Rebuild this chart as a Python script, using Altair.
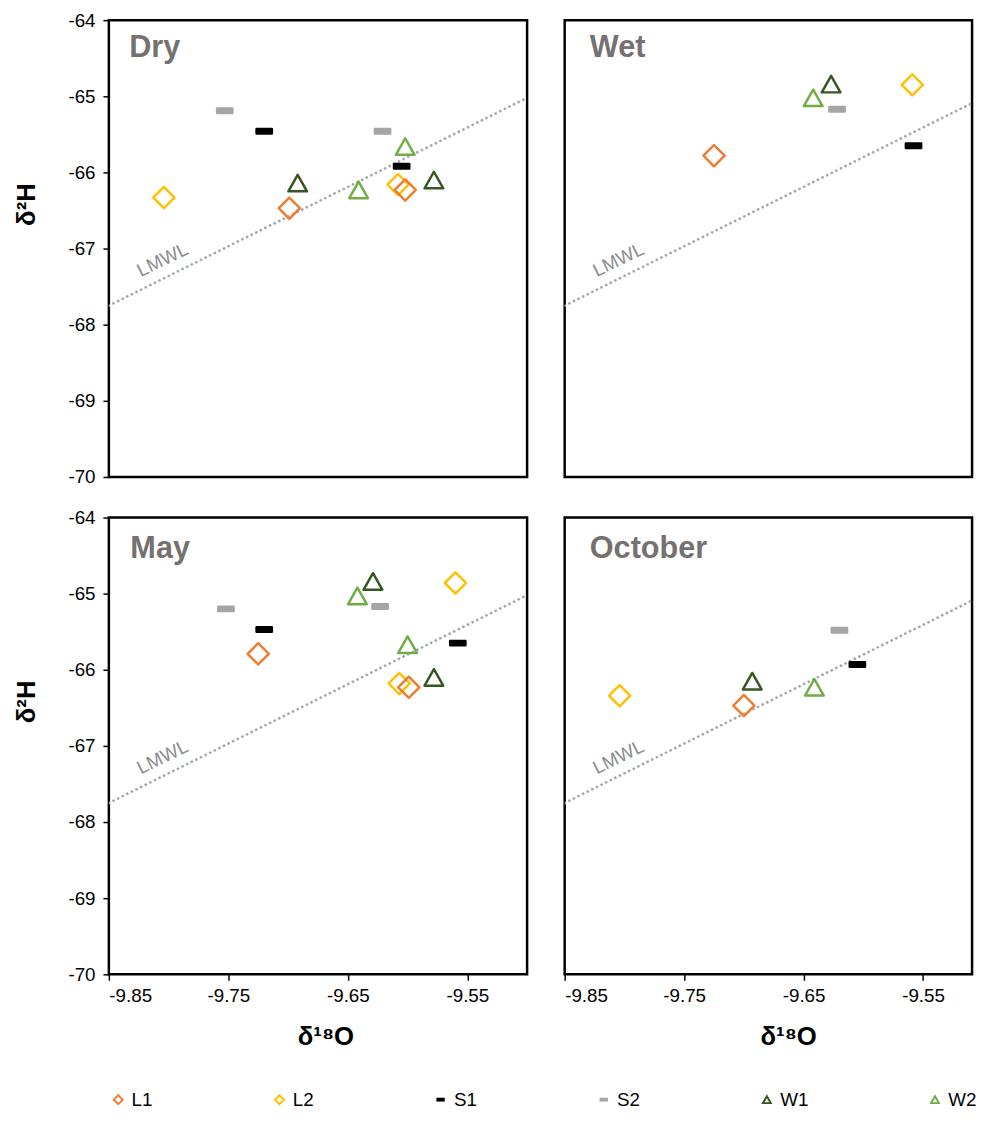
import altair as alt
import pandas as pd

# ---------------- data ----------------
SERIES = ["L1", "L2", "S1", "S2", "W1", "W2"]
STROKE_COLORS = ["#ED7D31", "#FFC000", "#000000", "#A5A5A5", "#375623", "#70AD47"]
FILL_COLORS = ["transparent", "transparent", "#000000", "#A5A5A5", "transparent", "transparent"]
DIAMOND = "M0,-1L1,0L0,1L-1,0Z"
BAR = "M-0.72,-0.21L0.72,-0.21L0.72,0.21L-0.72,0.21Z"
TRIANGLE = "M0,-0.78L0.88,0.78L-0.88,0.78Z"
SHAPES = [DIAMOND, DIAMOND, BAR, BAR, TRIANGLE, TRIANGLE]

Y_TICKS = [-64, -65, -66, -67, -68, -69, -70]
X_TICKS = [-9.85, -9.75, -9.65, -9.55]
Y_DOMAIN = [-70, -64]
X_DOMAIN_LEFT = [-9.85, -9.5]
X_DOMAIN_RIGHT = [-9.85, -9.509]

LMWL_X = [-9.85, -9.5]
LMWL_Y = [-67.75, -65.02]
LMWL_LABEL_X = [-9.805]
LMWL_LABEL_Y = [-67.15]

dry_series = ["L2", "S2", "S1", "W1", "L1", "W2", "S2", "W2", "S1", "L2", "L1", "W1"]
dry_x = [-9.804, -9.753, -9.720, -9.692, -9.699, -9.641, -9.621, -9.602, -9.605, -9.608, -9.602, -9.578]
dry_y = [-66.33, -65.19, -65.46, -66.14, -66.47, -66.23, -65.46, -65.66, -65.92, -66.16, -66.23, -66.10]

wet_series = ["L1", "W2", "W1", "S2", "L2", "S1"]
wet_x = [-9.725, -9.642, -9.627, -9.622, -9.559, -9.558]
wet_y = [-65.78, -65.02, -64.84, -65.17, -64.85, -65.65]

may_series = ["S2", "S1", "L1", "W2", "W1", "S2", "L2", "W2", "S1", "L2", "L1", "W1"]
may_x = [-9.752, -9.720, -9.725, -9.642, -9.629, -9.623, -9.560, -9.600, -9.558, -9.607, -9.599, -9.578]
may_y = [-65.20, -65.47, -65.79, -65.03, -64.84, -65.17, -64.86, -65.67, -65.65, -66.18, -66.23, -66.10]

oct_series = ["L2", "W1", "L1", "W2", "S2", "S1"]
oct_x = [-9.804, -9.693, -9.700, -9.641, -9.620, -9.605]
oct_y = [-66.34, -66.15, -66.47, -66.23, -65.48, -65.93]

PANEL_TITLES = ["Dry", "Wet", "May", "October"]
PANEL_TITLE_X = [-9.833, -9.829, -9.832, -9.829]
PANEL_TITLE_Y = [-64.49, -64.49, -64.53, -64.53]
X_TITLE_POS = [219, 226]

FONT = "Liberation Sans"
PANEL_H = 462
W_LEFT = 423
W_RIGHT = 412

legend = alt.Legend(
    orient="none", legendX=0, legendY=1082, offset=0, padding=0, direction="horizontal", columns=6,
    columnPadding=118, symbolSize=81, symbolStrokeWidth=2, symbolOpacity=1,
    labelFontSize=19, labelFont=FONT, labelColor="#000000", labelOffset=4,
)


def panel(idx, series, xs, ys, xdom, width, show_y, show_x, col):
    xsc = alt.Scale(domain=xdom, nice=False, zero=False)
    ysc = alt.Scale(domain=Y_DOMAIN, nice=False, zero=False)
    if show_x:
        xaxis = alt.Axis(values=X_TICKS, labelExpr="'-' + format(abs(datum.value), '.2f')",
                         title="δ¹⁸O", titleX=X_TITLE_POS[col], titleY=50, titleBaseline="top",
                         titleAlign="center", titleFontSize=26, titleFontWeight="bold",
                         labelPadding=6)
    else:
        xaxis = None
    if show_y:
        yaxis = alt.Axis(values=Y_TICKS, labelExpr="'-' + format(abs(datum.value), 'd')",
                         title="δ²H", titleX=-70, titleY=186, titleFontSize=26,
                         titleFontWeight="bold", labelPadding=8)
    else:
        yaxis = None
    X = alt.X("x:Q", scale=xsc, axis=xaxis)
    Y = alt.Y("y:Q", scale=ysc, axis=yaxis)

    lmwl = alt.Chart(pd.DataFrame({"x": LMWL_X, "y": LMWL_Y})).mark_line(
        clip=True, color="#A5A9B0", strokeWidth=2.8, strokeDash=[0.1, 5.1], strokeCap="round"
    ).encode(x=X, y=Y)
    lab = alt.Chart(pd.DataFrame({"x": LMWL_LABEL_X, "y": LMWL_LABEL_Y, "t": ["LMWL"]})).mark_text(
        angle=334, fontSize=19, font=FONT, color="#8C8C8C", align="center", baseline="middle"
    ).encode(x=X, y=Y, text="t:N")
    ttl = alt.Chart(pd.DataFrame({"x": [PANEL_TITLE_X[idx]], "y": [PANEL_TITLE_Y[idx]],
                                  "t": [PANEL_TITLES[idx]]})).mark_text(
        align="left", baseline="alphabetic", fontSize=31, fontWeight="bold", font=FONT, color="#767171"
    ).encode(x=X, y=Y, text="t:N")
    df = pd.DataFrame({"series": series, "x": xs, "y": ys})
    pts = alt.Chart(df).mark_point(size=460, strokeWidth=2.5, strokeJoin="round", opacity=1).encode(
        x=X, y=Y,
        shape=alt.Shape("series:N", scale=alt.Scale(domain=SERIES, range=SHAPES), legend=legend, title=None),
        stroke=alt.Stroke("series:N", scale=alt.Scale(domain=SERIES, range=STROKE_COLORS), legend=legend, title=None),
        fill=alt.Fill("series:N", scale=alt.Scale(domain=SERIES, range=FILL_COLORS), legend=legend, title=None),
    )
    return alt.layer(lmwl, lab, ttl, pts).properties(width=width, height=PANEL_H)


tl = panel(0, dry_series, dry_x, dry_y, X_DOMAIN_LEFT, W_LEFT, True, False, 0)
tr = panel(1, wet_series, wet_x, wet_y, X_DOMAIN_RIGHT, W_RIGHT, False, False, 1)
bl = panel(2, may_series, may_x, may_y, X_DOMAIN_LEFT, W_LEFT, True, True, 0)
br = panel(3, oct_series, oct_x, oct_y, X_DOMAIN_RIGHT, W_RIGHT, False, True, 1)

chart = alt.concat(
    tl, tr, bl, br, columns=2, spacing={"row": 41, "column": 38}, bounds="flush"
).resolve_scale(
    x="independent", y="independent", shape="shared", stroke="shared", fill="shared"
).configure_view(
    stroke="#000000", strokeWidth=2.5
).configure_axis(
    labelFont=FONT, labelFontSize=19, labelColor="#000000", titleFont=FONT, titleColor="#000000",
    tickColor="#000000", tickWidth=1.5, tickSize=6, domain=False, grid=False
).properties(
    padding={"left": 4, "top": -5, "right": 0, "bottom": 0}, background="#ffffff"
)

chart.save("out.html", embed_options={"renderer": "svg", "actions": False})
